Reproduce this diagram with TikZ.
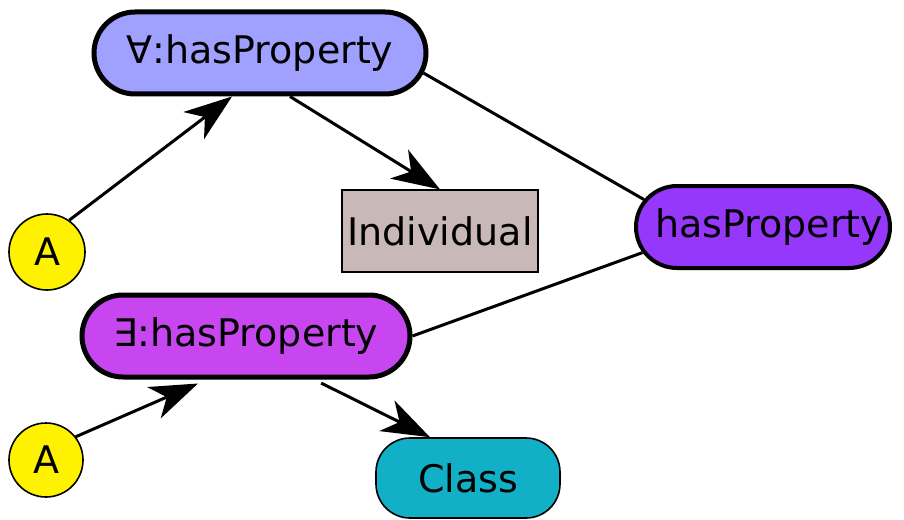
\documentclass[tikz,border=0pt]{standalone}
\usepackage{fontspec}
\setmainfont{DejaVu Sans}
\usetikzlibrary{positioning, shapes.misc, shapes.geometric, arrows.meta}

\definecolor{forallblue}{RGB}{160,160,255}
\definecolor{propviolet}{RGB}{150,55,252}
\definecolor{existsviolet}{RGB}{200,70,240}
\definecolor{indivgrey}{RGB}{200,184,184}
\definecolor{classteal}{RGB}{18,176,198}

\tikzset{
    restr/.style={rounded rectangle, draw, line width=2.5pt, minimum height=41pt, inner sep=0pt},
    anon/.style={circle, draw, line width=0.8pt, fill=yellow, inner sep=0pt},
    link/.style={line width=1.5pt},
    arr/.style={link, -{Stealth[length=24pt, width=17pt, inset=7pt]}}
}

\begin{document}
\begin{tikzpicture}[x=0.5pt, y=-0.5pt, font=\fontsize{19}{23}\selectfont]
    \useasboundingbox (0, 0) rectangle (904, 519);
    \node[restr, fill=forallblue, minimum width=166pt] (forall) at (260, 53) {∀:hasProperty};
    \node[draw, line width=0.6pt, fill=indivgrey, minimum width=98pt, minimum height=41pt, inner sep=0pt] (indiv) at (440, 231) {Individual};
    \node[restr, line width=2pt, fill=propviolet, minimum width=127pt] (prop) at (763, 227) {\hspace{6pt}hasProperty};
    \node[restr, fill=existsviolet, minimum width=164pt] (exists) at (246, 336) {∃:hasProperty};
    \node[draw, line width=0.8pt, rounded corners=17pt, fill=classteal, minimum width=92pt, minimum height=40pt, inner sep=0pt] (class) at (468, 478) {Class};
    \node[anon, minimum size=38pt] (a1) at (47, 252) {A};
    \node[anon, minimum size=37pt] (a2) at (46, 460) {A};
    \draw[arr] (a1.55) -- ([xshift=-14pt]forall.south);
    \draw[arr] ([xshift=15pt]forall.south) -- (indiv.north);
    \draw[link] (forall.-7) -- (prop.167);
    \draw[link] (prop.192) -- (exists.east);
    \draw[arr] (a2.38) -- ([xshift=-24pt, yshift=-2pt]exists.south);
    \draw[arr, shorten <=4pt] ([xshift=34pt]exists.south) -- ([xshift=-19pt]class.north);
\end{tikzpicture}
\end{document}
